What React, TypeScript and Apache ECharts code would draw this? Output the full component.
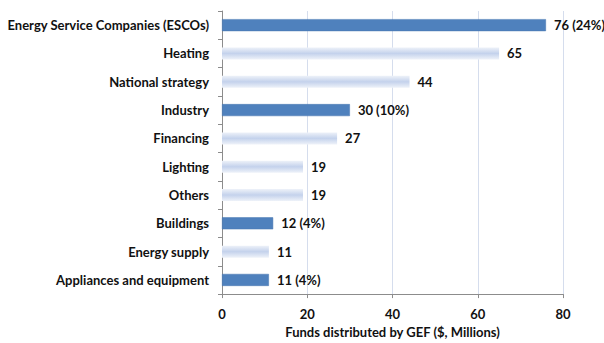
import React, { useEffect, useRef } from "react";
import * as echarts from "echarts";

const categories = [
  "Energy Service Companies (ESCOs)",
  "Heating",
  "National strategy",
  "Industry",
  "Financing",
  "Lighting",
  "Others",
  "Buildings",
  "Energy supply",
  "Appliances and equipment",
];
const values = [76, 65, 44, 30, 27, 19, 19, 12, 11, 11];
const shares = ["24%", null, null, "10%", null, null, null, "4%", null, "4%"];
const highlighted = [true, false, false, true, false, false, false, true, false, true];
const xTicks = [0, 20, 40, 60, 80];
const xTitle = "Funds distributed by GEF ($, Millions)";

const FONT = "Lato, 'Open Sans', sans-serif";

export default function App() {
  const ref = useRef<HTMLDivElement>(null);
  useEffect(() => {
    if (!ref.current) return;
    const chart = echarts.init(ref.current, undefined, { renderer: "svg" });
    const light = new echarts.graphic.LinearGradient(0, 0, 0, 1, [
      { offset: 0, color: "#eef2f9" },
      { offset: 0.5, color: "#c4d2ec" },
      { offset: 1, color: "#eef2f9" },
    ]);
    chart.setOption({
      animation: false,
      backgroundColor: "#ffffff",
      grid: { left: 222, right: 41, top: 11, bottom: 39, containLabel: false },
      xAxis: {
        type: "value",
        min: xTicks[0],
        max: xTicks[xTicks.length - 1],
        interval: xTicks[1] - xTicks[0],
        name: xTitle,
        nameLocation: "middle",
        nameGap: 25,
        nameTextStyle: { fontFamily: FONT, fontWeight: "bold", fontSize: 13, color: "#111" },
        axisLine: { show: true, lineStyle: { color: "#8c8c8c" } },
        axisTick: { show: true, length: 4, lineStyle: { color: "#8c8c8c" } },
        axisLabel: { fontFamily: FONT, fontWeight: "bold", fontSize: 13, color: "#111", margin: 13 },
        splitLine: { show: true, lineStyle: { color: "#d5dded" } },
      },
      yAxis: {
        type: "category",
        data: categories,
        inverse: true,
        axisLine: { show: true, lineStyle: { color: "#8c8c8c" } },
        axisTick: { show: true, length: 4, inside: false, lineStyle: { color: "#8c8c8c" } },
        axisLabel: { fontFamily: FONT, fontWeight: "bold", fontSize: 13, color: "#111", margin: 13 },
        splitLine: { show: false },
      },
      series: [
        {
          type: "bar",
          barWidth: 12,
          data: values.map((v, i) => ({
            value: v,
            itemStyle: highlighted[i]
              ? { color: "#4f81bd", borderColor: "#4676b0", borderWidth: 0.5 }
              : { color: light },
          })),
          label: {
            show: true,
            position: "right",
            distance: 8,
            fontFamily: FONT,
            fontWeight: "bold",
            fontSize: 13,
            color: "#111",
            formatter: (p: any) =>
              shares[p.dataIndex] ? `${p.value} (${shares[p.dataIndex]})` : `${p.value}`,
          },
        },
      ],
    });
    return () => chart.dispose();
  }, []);
  return <div ref={ref} style={{ width: 604, height: 343, position: "absolute", left: 0, top: 0 }} />;
}
